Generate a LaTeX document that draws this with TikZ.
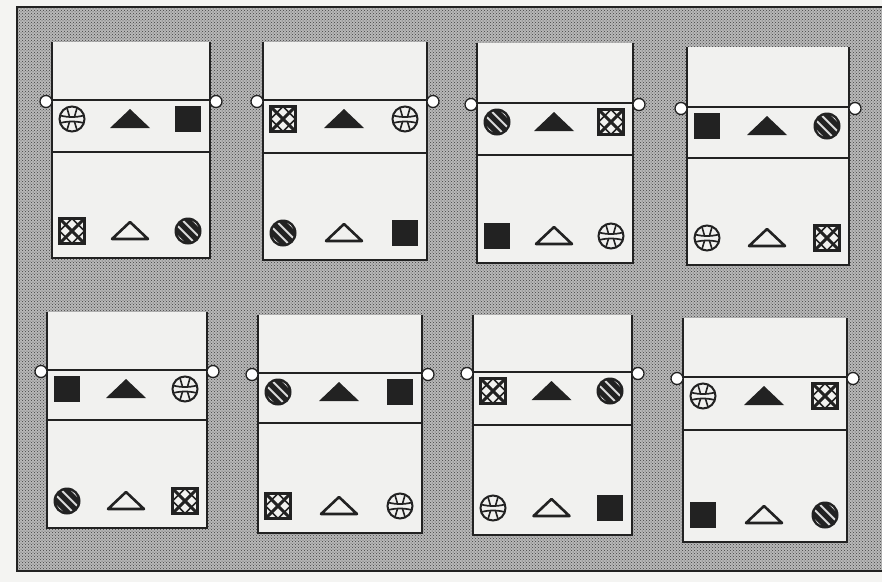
\documentclass[tikz,border=0pt]{standalone}
\usetikzlibrary{patterns}
\definecolor{paper}{HTML}{F4F4F2}
\definecolor{cardw}{HTML}{F1F1EF}
\definecolor{ink}{HTML}{222222}
\tikzset{
  cardfill/.style={fill=cardw},
  cardline/.style={draw=ink,line width=2.2pt},
  knob/.style={draw=ink,fill=white,line width=1.3pt},
  pics/ballc/.style={code={
    \draw[ink,line width=2pt] (0,0) circle (12.5);
    \draw[ink,line width=1.7pt] (-11.8,-3.5) .. controls (-4,-1.5) and (4,-1.5) .. (11.8,-3.5);
    \draw[ink,line width=1.7pt] (-11.8,4) .. controls (-4,2) and (4,2) .. (11.8,4);
    \draw[ink,line width=1.6pt] (-5,-11) -- (-2.5,-2.3) (5,-11) -- (2.5,-2.3);
    \draw[ink,line width=1.6pt] (-5,11) -- (-2.5,2.8) (5,11) -- (2.5,2.8);
  }},
  pics/hcirc/.style={code={
    \fill[ink] (0,0) circle (13.5);
    \begin{scope}
      \clip (0,0) circle (11);
      \foreach \d in {-7.8,-2.6,2.6,7.8}
        \draw[white!85!black,line width=1.9pt] (-16+\d,-16-\d) -- (16+\d,16-\d);
    \end{scope}
  }},
  pics/fsq/.style={code={
    \fill[ink] (-13,-13) rectangle (13,13);
  }},
  pics/xsq/.style={code={
    \draw[ink,line width=2.2pt] (-12.5,-12.5) rectangle (12.5,12.5);
    \draw[ink,line width=3pt] (-12.5,-12.5) -- (12.5,12.5) (-12.5,12.5) -- (12.5,-12.5);
    \draw[ink,line width=1.6pt] (0,-12.5) -- (12.5,0) -- (0,12.5) -- (-12.5,0) -- cycle;
  }},
  pics/ftri/.style={code={
    \fill[ink,line join=round] (-20,9) -- (0,-10) -- (20,9) -- cycle;
  }},
  pics/otri/.style={code={
    \draw[ink,line width=2.6pt,line join=round] (-18,8) -- (0,-9) -- (18,8) -- cycle;
  }}
}
\newcommand\mycard[8]{%
  \fill[cardfill] (#1,#3) rectangle (#2,#4);
  \draw[cardline] (#1,#3) -- (#1,#4) -- (#2,#4) -- (#2,#3);
  \draw[cardline] (#1,#5) -- (#2,#5);
  \draw[cardline] (#1,#6) -- (#2,#6);
  \draw[knob] (#1-6,#5+1.5) circle (6);
  \draw[knob] (#2+6,#5+1.5) circle (6);
  \foreach \s [count=\i] in {#7} {
    \pgfmathsetmacro\xx{#1+20+(\i-1)*((#2-22)-(#1+20))/2}
    \pic at (\xx,#5+19) {\s};
  }
  \foreach \s [count=\i] in {#8} {
    \pgfmathsetmacro\xx{#1+20+(\i-1)*((#2-22)-(#1+20))/2}
    \pic at (\xx,#4-27) {\s};
  }
}
\begin{document}
\begin{tikzpicture}[x=1pt,y=-1pt]
  \useasboundingbox (0,0) rectangle (882,582);
  \fill[paper] (0,0) rectangle (882,582);
  % dotted background
  \fill[black!28] (17,7) rectangle (882,571);
  \fill[pattern=crosshatch dots,pattern color=black!75] (17,7) rectangle (882,571);
  \draw[ink,line width=2.4pt] (882,7) -- (17,7) -- (17,571) -- (882,571);
  % cards: left, right, top, bottom, band top, band bottom, band symbols, lower symbols
  \mycard{52}{210}{42}{258}{100}{152}{ballc,ftri,fsq}{xsq,otri,hcirc}
  \mycard{263}{427}{42}{260}{100}{153}{xsq,ftri,ballc}{hcirc,otri,fsq}
  \mycard{477}{633}{43}{263}{103}{155}{hcirc,ftri,xsq}{fsq,otri,ballc}
  \mycard{687}{849}{47}{265}{107}{158}{fsq,ftri,hcirc}{ballc,otri,xsq}
  \mycard{47}{207}{312}{528}{370}{420}{fsq,ftri,ballc}{hcirc,otri,xsq}
  \mycard{258}{422}{315}{533}{373}{423}{hcirc,ftri,fsq}{xsq,otri,ballc}
  \mycard{473}{632}{315}{535}{372}{425}{xsq,ftri,hcirc}{ballc,otri,fsq}
  \mycard{683}{847}{318}{542}{377}{430}{ballc,ftri,xsq}{fsq,otri,hcirc}
\end{tikzpicture}
\end{document}
